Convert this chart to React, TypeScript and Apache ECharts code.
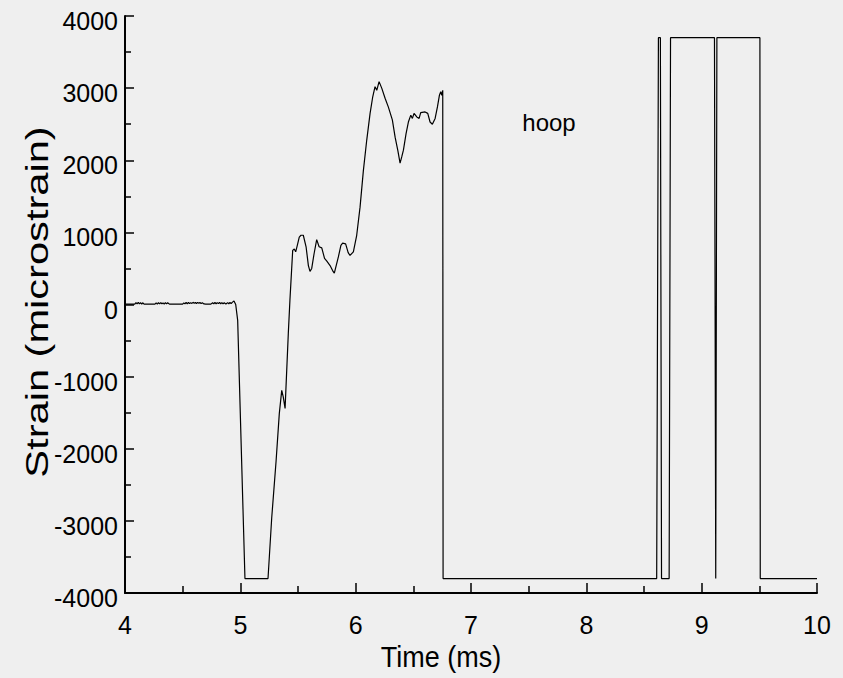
import React, { useEffect, useRef } from "react";
import * as echarts from "echarts";

// Axis ticks
const timeTicks = [4, 5, 6, 7, 8, 9, 10];
const strainTicks = [-4000, -3000, -2000, -1000, 0, 1000, 2000, 3000, 4000];

// Quiet record before the event (time in ms, strain in microstrain)
const preTrigger: [number, number][] = [
  [4.0, 5], [4.03, 5], [4.06, 5], [4.085, 5], [4.095, 25], [4.105, 8], [4.115, 28],
  [4.125, 8], [4.135, 25], [4.145, 6], [4.155, 24], [4.165, 5], [4.175, 5],
  [4.2, 5], [4.23, 5], [4.26, 5], [4.27, 22], [4.28, 6], [4.29, 26], [4.3, 8],
  [4.31, 27], [4.32, 10], [4.33, 22], [4.34, 6], [4.35, 25], [4.36, 8], [4.37, 24],
  [4.385, 5], [4.41, 5], [4.44, 5], [4.47, 5], [4.5, 6], [4.51, 22], [4.52, 8],
  [4.53, 28], [4.54, 10], [4.55, 30], [4.56, 12], [4.57, 26], [4.58, 15], [4.59, 30],
  [4.6, 18], [4.61, 28], [4.62, 14], [4.63, 30], [4.64, 16], [4.65, 27], [4.66, 12],
  [4.67, 25], [4.685, 8], [4.7, 5], [4.72, 6], [4.745, 5], [4.76, 24], [4.77, 8],
  [4.78, 28], [4.79, 10], [4.8, 26], [4.81, 12], [4.82, 30], [4.83, 10], [4.84, 26],
  [4.85, 8], [4.86, 24], [4.875, 6], [4.89, 26], [4.9, 10], [4.91, 28], [4.92, 12],
  [4.93, 30], [4.945, 50], [4.96, 0], [4.977, -220],
];

// Gauge response after the event
const response: [number, number][] = [
  [5.04, -3800], [5.24, -3800], [5.272, -2960], [5.31, -2170], [5.338, -1510],
  [5.359, -1190], [5.372, -1280], [5.388, -1440], [5.416, -400], [5.43, 60],
  [5.454, 750], [5.468, 770], [5.48, 730], [5.494, 820], [5.511, 935], [5.526, 960],
  [5.546, 960], [5.57, 800], [5.59, 540], [5.604, 460], [5.619, 500], [5.639, 700],
  [5.662, 900], [5.683, 800], [5.706, 785], [5.73, 640], [5.75, 600], [5.778, 540],
  [5.8, 470], [5.815, 435], [5.85, 660], [5.872, 820], [5.887, 850], [5.913, 840],
  [5.935, 720], [5.951, 680], [5.98, 730], [6.009, 960], [6.038, 1350], [6.067, 1860],
  [6.096, 2280], [6.125, 2650], [6.148, 2880], [6.168, 3020], [6.183, 2970],
  [6.203, 3090], [6.226, 3000], [6.255, 2860], [6.283, 2740], [6.318, 2560],
  [6.342, 2320], [6.365, 2140], [6.385, 1960], [6.4, 2050], [6.414, 2140],
  [6.437, 2370], [6.457, 2530], [6.478, 2625], [6.492, 2580], [6.506, 2650],
  [6.53, 2600], [6.55, 2580], [6.564, 2660], [6.602, 2670], [6.625, 2650],
  [6.645, 2530], [6.665, 2500], [6.689, 2580], [6.709, 2740], [6.726, 2900],
  [6.738, 2950], [6.747, 2900], [6.755, 2970], [6.758, -3800],
];

// Saturated channel: the signal jumps between the two rails
const saturated: [number, number][] = [
  [8.61, -3800], [8.625, 3700], [8.642, 3700], [8.652, -3800], [8.718, -3800],
  [8.73, 3700], [9.111, 3700], [9.122, -3800], [9.132, 3700], [9.505, 3700],
  [9.508, -3800], [10, -3800],
];

const FONT = "'Liberation Sans', Arial, Helvetica, sans-serif";

export default function App() {
  const ref = useRef<HTMLDivElement>(null);

  useEffect(() => {
    if (!ref.current) return;
    const chart = echarts.init(ref.current, null, { renderer: "svg" });
    const trace = [...preTrigger, ...response, ...saturated];

    chart.setOption({
      animation: false,
      backgroundColor: "#efefef",
      grid: { left: 125, right: 26, top: 16, bottom: 85 },
      xAxis: {
        type: "value",
        min: timeTicks[0],
        max: timeTicks[timeTicks.length - 1],
        interval: timeTicks[1] - timeTicks[0],
        axisLine: { show: true, onZero: false, lineStyle: { color: "#000", width: 2 } },
        axisTick: { show: true, inside: true, length: 10, lineStyle: { color: "#000", width: 1.5 } },
        minorTick: { show: true, splitNumber: 2, length: 7, lineStyle: { color: "#000", width: 1.5 } },
        splitLine: { show: false },
        axisLabel: {
          color: "#000",
          fontSize: 25,
          fontFamily: FONT,
          margin: 19,
          formatter: (v: number) => String(v),
        },
      },
      yAxis: {
        type: "value",
        min: strainTicks[0],
        max: strainTicks[strainTicks.length - 1],
        interval: strainTicks[1] - strainTicks[0],
        axisLine: { show: true, onZero: false, lineStyle: { color: "#000", width: 2 } },
        axisTick: { show: true, inside: true, length: 9, lineStyle: { color: "#000", width: 1.5 } },
        minorTick: { show: true, splitNumber: 2, length: 6, lineStyle: { color: "#000", width: 1.5 } },
        splitLine: { show: false },
        axisLabel: {
          color: "#000",
          fontSize: 25,
          fontFamily: FONT,
          margin: 7,
          verticalAlign: "top",
          lineHeight: 10,
          formatter: (v: number) => String(v),
        },
      },
      series: [
        {
          type: "line",
          data: trace,
          showSymbol: false,
          symbol: "none",
          lineStyle: { color: "#000", width: 1.2 },
        },
      ],
      graphic: [
        {
          type: "text",
          x: 441,
          y: 656,
          scaleX: 0.9,
          style: {
            text: "Time (ms)",
            fill: "#000",
            font: `30px ${FONT}`,
            align: "center",
            verticalAlign: "middle",
          },
        },
        {
          type: "text",
          x: 37,
          y: 302,
          rotation: Math.PI / 2,
          scaleX: 1.3,
          style: {
            text: "Strain (microstrain)",
            fill: "#000",
            font: `32px ${FONT}`,
            align: "center",
            verticalAlign: "middle",
          },
        },
        {
          type: "text",
          x: 549,
          y: 122,
          style: {
            text: "hoop",
            fill: "#000",
            font: `24px ${FONT}`,
            align: "center",
            verticalAlign: "middle",
          },
        },
      ],
    });

    return () => chart.dispose();
  }, []);

  return (
    <div
      ref={ref}
      style={{ position: "fixed", left: 0, top: 0, width: 843, height: 678 }}
    />
  );
}
